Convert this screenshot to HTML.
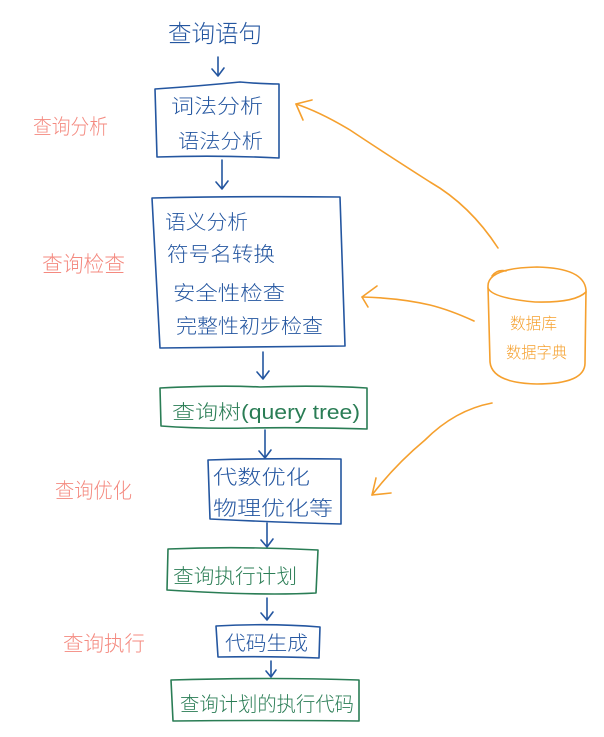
<!DOCTYPE html>
<html><head><meta charset="utf-8"><style>
html,body{margin:0;padding:0;background:#fff;}
svg{display:block;}
text{font-family:"Liberation Sans","Noto Sans CJK SC",sans-serif;font-weight:300;}
.b{fill:#2456a0;}
.g{fill:#2a7d55;}
.p{fill:#f4897f;}
.o{fill:#f5a02e;}
.sb{stroke:#2456a0;fill:none;stroke-width:1.6;stroke-linecap:round;stroke-linejoin:round;}
.sg{stroke:#2a7d55;fill:none;stroke-width:1.6;stroke-linecap:round;stroke-linejoin:round;}
.so{stroke:#f5a02e;fill:none;stroke-width:1.6;stroke-linecap:round;stroke-linejoin:round;}
</style></head><body>
<svg width="604" height="737" viewBox="0 0 604 737" xmlns="http://www.w3.org/2000/svg">
<!-- title -->
<text class="b" x="168" y="42" font-size="24" textLength="94" lengthAdjust="spacingAndGlyphs">查询语句</text>
<path class="sb" d="M218 57 L218 76 M212 69 L218 76 L224 68"/>

<!-- box1 -->
<path class="sb" d="M155 89 Q200 86 240 82 Q262 84 279 84 L279 158 Q220 155 157 157 L155 89"/>
<text class="b" x="171" y="113" font-size="20" textLength="92" lengthAdjust="spacingAndGlyphs">词法分析</text>
<text class="b" x="178" y="148" font-size="20" textLength="85" lengthAdjust="spacingAndGlyphs">语法分析</text>
<path class="sb" d="M222 160 L222 189 M216 182 L222 189 L228 181"/>

<!-- box2 -->
<path class="sb" d="M152 198 Q250 196 340 197 L345 346 Q250 347 160 348 L152 198"/>
<text class="b" x="165" y="229" font-size="20" textLength="83" lengthAdjust="spacingAndGlyphs">语义分析</text>
<text class="b" x="167" y="261" font-size="20" textLength="108" lengthAdjust="spacingAndGlyphs">符号名转换</text>
<text class="b" x="173" y="300" font-size="20" textLength="112" lengthAdjust="spacingAndGlyphs">安全性检查</text>
<text class="b" x="176" y="333" font-size="20" textLength="147" lengthAdjust="spacingAndGlyphs">完整性初步检查</text>
<path class="sb" d="M263 352 L263 379 M257 372 L263 379 L269 371"/>

<!-- box3 green -->
<path class="sg" d="M160 388 Q220 385 260 387 Q320 385 367 388 L367 429 Q300 427 250 428 Q200 429 161 426 L160 388"/>
<text class="g" x="172" y="419" font-size="20" textLength="188" lengthAdjust="spacingAndGlyphs">查询树(query tree)</text>
<path class="sb" d="M265 430 L265 458 M259 451 L265 458 L271 450"/>

<!-- box4 -->
<path class="sb" d="M208 460 Q270 458 341 459 L341 524 Q270 522 210 519 L208 460"/>
<text class="b" x="213" y="484" font-size="20" textLength="97" lengthAdjust="spacingAndGlyphs">代数优化</text>
<text class="b" x="213" y="515" font-size="20" textLength="120" lengthAdjust="spacingAndGlyphs">物理优化等</text>
<path class="sb" d="M267 523 L267 547 M261 540 L267 547 L273 539"/>

<!-- box5 green -->
<path class="sg" d="M168 549 Q240 546 318 550 L316 593 Q260 596 167 590 L168 549"/>
<text class="g" x="173" y="583" font-size="20" textLength="124" lengthAdjust="spacingAndGlyphs">查询执行计划</text>
<path class="sb" d="M267 598 L267 620 M261 613 L267 620 L273 612"/>

<!-- box6 -->
<path class="sb" d="M216 626 Q270 623 320 627 L319 658 Q270 656 218 657 L216 626"/>
<text class="b" x="225" y="650" font-size="20" textLength="83" lengthAdjust="spacingAndGlyphs">代码生成</text>
<path class="sb" d="M271 661 L271 677 M266 671 L271 677 L276 670"/>

<!-- box7 green -->
<path class="sg" d="M171 680 Q270 677 359 680 L359 721 Q270 720 173 721 L171 680"/>
<text class="g" x="180" y="711" font-size="20" textLength="174" lengthAdjust="spacingAndGlyphs">查询计划的执行代码</text>

<!-- pink labels -->
<text class="p" x="33" y="134" font-size="21" textLength="75" lengthAdjust="spacingAndGlyphs">查询分析</text>
<text class="p" x="42" y="272" font-size="22" textLength="83" lengthAdjust="spacingAndGlyphs">查询检查</text>
<text class="p" x="55" y="498" font-size="21" textLength="77" lengthAdjust="spacingAndGlyphs">查询优化</text>
<text class="p" x="63" y="651" font-size="21" textLength="82" lengthAdjust="spacingAndGlyphs">查询执行</text>

<!-- cylinder -->
<path class="so" d="M488 286 Q488 268 537 267 Q584 268 586 290 L585 362 Q586 384 537 384 Q492 383 490 362 L488 286"/>
<path class="so" d="M488 288 Q492 298 535 302 Q575 303 586 292"/>
<path class="so" d="M492 276 Q497 269 506 271"/>
<text class="o" x="510" y="329" font-size="16" textLength="47" lengthAdjust="spacingAndGlyphs">数据库</text>
<text class="o" x="506" y="358" font-size="16" textLength="61" lengthAdjust="spacingAndGlyphs">数据字典</text>

<!-- orange arrows -->
<path class="so" d="M498 248 Q470 205 430 182 Q380 150 350 130 Q320 112 296 104"/>
<path class="so" d="M312 100 L296 104 L303 120"/>
<path class="so" d="M474 321 Q450 310 430 305 Q400 298 362 297"/>
<path class="so" d="M377 286 L362 297 L368 307"/>
<path class="so" d="M492 403 Q455 410 425 440 Q395 465 372 495"/>
<path class="so" d="M376 478 L372 495 L391 493"/>
</svg>
</body></html>
